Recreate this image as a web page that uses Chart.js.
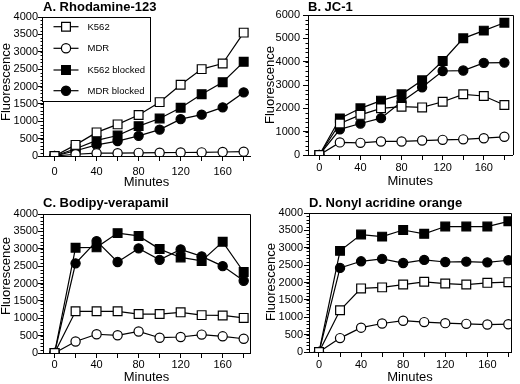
<!DOCTYPE html>
<html>
<head>
<meta charset="utf-8">
<script src="https://cdn.jsdelivr.net/npm/chart.js@4.4.1/dist/chart.umd.min.js"></script>
<style>
    html, body { margin: 0; padding: 0; background: #fff; }
    #wrap { position: relative; width: 520px; height: 384px; }
    #wrap canvas { position: absolute; }
</style>
</head>
<body>
<div id="wrap">
    <canvas id="chartA" width="260" height="192" style="left:0;top:0"></canvas>
    <canvas id="chartB" width="260" height="192" style="left:260px;top:0"></canvas>
    <canvas id="chartC" width="260" height="192" style="left:0;top:192px"></canvas>
    <canvas id="chartD" width="260" height="192" style="left:260px;top:192px"></canvas>
</div>
<script>
// dados
const minutes = [0, 20, 40, 60, 80, 100, 120, 140, 160, 180];
const seriesNames = ['K562', 'MDR', 'K562 blocked', 'MDR blocked'];
const xTitle = 'Minutes';
const yTitle = 'Fluorescence';
const xTickLabels = [0, 40, 80, 120, 160];

// A. Rhodamine-123
const rhoK562 = [0, 320, 680, 910, 1180, 1550, 2050, 2500, 2660, 3550];
const rhoMDR = [0, 50, 80, 80, 90, 95, 100, 105, 115, 125];
const rhoK562Blk = [0, 210, 450, 590, 860, 1080, 1390, 1780, 2125, 2710];
const rhoMDRBlk = [0, 150, 320, 430, 580, 760, 1060, 1190, 1400, 1830];

// B. JC-1
const jcK562 = [0, 1350, 1720, 2000, 2070, 2040, 2280, 2600, 2530, 2140];
const jcMDR = [0, 540, 520, 580, 580, 620, 650, 670, 720, 780];
const jcK562Blk = [0, 1570, 2000, 2330, 2600, 3200, 4030, 5000, 5330, 5670];
const jcMDRBlk = [0, 1100, 1350, 1580, 2280, 2900, 3600, 3620, 3950, 3960];

// C. Bodipy-verapamil
const bodK562 = [0, 1200, 1200, 1200, 1120, 1120, 1170, 1090, 1080, 1010];
const bodMDR = [0, 330, 540, 510, 620, 440, 460, 530, 480, 410];
const bodK562Blk = [0, 3030, 3040, 3450, 3370, 2990, 2750, 2650, 3200, 2330];
const bodMDRBlk = [0, 2580, 3220, 2620, 3010, 2680, 2980, 2780, 2500, 2080];

// D. Nonyl acridine orange
const naoK562 = [0, 1200, 1830, 1860, 1940, 2020, 1970, 1940, 1990, 2010];
const naoMDR = [0, 400, 700, 820, 900, 860, 830, 810, 790, 800];
const naoK562Blk = [0, 2910, 3380, 3320, 3510, 3400, 3610, 3610, 3610, 3760];
const naoMDRBlk = [0, 2420, 2610, 2680, 2560, 2650, 2590, 2600, 2580, 2640];

const FONT = '"Liberation Sans", Arial, Helvetica, sans-serif';
Chart.defaults.font.family = FONT;
Chart.defaults.color = '#000';

// marcadores: quadrado/círculo aberto e cheio
const markers = [
    { shape: 'rect', r: 6.2, fill: '#fff' },
    { shape: 'circle', r: 4.6, fill: '#fff' },
    { shape: 'rect', r: 6.2, fill: '#000' },
    { shape: 'circle', r: 4.6, fill: '#000' }
];

const panelDecor = {
    id: 'panelDecor',
    afterDraw(chart, args, o) {
        const { ctx, chartArea: a, scales } = chart;
        ctx.save();
        ctx.fillStyle = '#000';
        ctx.strokeStyle = '#000';

        // título do painel
        ctx.font = 'bold 13px ' + FONT;
        ctx.textAlign = 'left';
        ctx.textBaseline = 'alphabetic';
        ctx.fillText(o.title, a.left, o.titleY);

        // títulos dos eixos
        ctx.font = '13px ' + FONT;
        ctx.textAlign = 'center';
        ctx.textBaseline = 'middle';
        ctx.fillText(xTitle, (a.left + a.right) / 2, a.bottom + o.xTitleOff);
        ctx.save();
        ctx.translate(o.yTitleX, o.yTitleY);
        ctx.rotate(-Math.PI / 2);
        ctx.fillText(yTitle, 0, 0);
        ctx.restore();

        // ticks menores do eixo y
        ctx.lineWidth = 1;
        ctx.beginPath();
        for (let v = 0; v <= scales.y.max; v += o.yMinor) {
            const py = Math.round(scales.y.getPixelForValue(v)) + 0.5;
            ctx.moveTo(a.left - 2.5, py);
            ctx.lineTo(a.left, py);
        }
        ctx.stroke();

        // moldura (topo e direita)
        if (o.frame) {
            ctx.beginPath();
            ctx.moveTo(a.left, Math.round(a.top) + 0.5);
            ctx.lineTo(Math.round(a.right) + 0.5, Math.round(a.top) + 0.5);
            ctx.lineTo(Math.round(a.right) + 0.5, a.bottom);
            ctx.stroke();
        }

        // legenda dentro do gráfico
        if (o.legend) {
            const bx = a.left - 0.5, by = Math.round(a.top) + 0.5;
            ctx.fillStyle = '#fff';
            ctx.fillRect(bx, by, 108, 84);
            ctx.strokeRect(bx, by, 108, 84);
            ctx.font = '9.5px ' + FONT;
            ctx.textAlign = 'left';
            const rows = [26.7, 48.3, 70, 90.7];
            seriesNames.forEach((name, i) => {
                const y = rows[i];
                ctx.strokeStyle = '#000';
                ctx.lineWidth = 1.2;
                ctx.beginPath();
                ctx.moveTo(bx + 11, y);
                ctx.lineTo(bx + 36, y);
                ctx.stroke();
                ctx.fillStyle = markers[i].fill;
                Chart.helpers.drawPoint(ctx, {
                    pointStyle: markers[i].shape,
                    radius: markers[i].r,
                    rotation: 0,
                    borderWidth: 1.2
                }, bx + 23.5, y);
                ctx.fillStyle = '#000';
                ctx.fillText(name, bx + 45, y + 0.5);
            });
        }
        ctx.restore();
    }
};

function makePanel(id, p) {
    const datasets = seriesNames.map((name, i) => ({
        label: name,
        data: minutes.map((m, j) => ({ x: m, y: p.values[i][j] })),
        showLine: true,
        borderColor: '#000',
        borderWidth: 1.2,
        pointStyle: markers[i].shape,
        pointRadius: markers[i].r,
        pointBackgroundColor: markers[i].fill,
        pointBorderColor: '#000',
        pointBorderWidth: 1.2
    }));

    const yTicks = [];
    for (let v = 0; v <= p.yMax; v += p.yStep) yTicks.push(v);

    new Chart(document.getElementById(id).getContext('2d'), {
        type: 'scatter',
        data: { datasets: datasets },
        options: {
            responsive: false,
            animation: false,
            events: [],
            layout: {
                padding: { left: 0, top: p.top, right: 260 - p.right, bottom: 0 }
            },
            plugins: {
                legend: { display: false },
                tooltip: { enabled: false },
                panelDecor: p.decor
            },
            scales: {
                x: {
                    type: 'linear',
                    min: p.xMin,
                    max: p.xMax,
                    afterFit: s => { s.height = 192 - p.bottom; },
                    afterBuildTicks: s => { s.ticks = minutes.map(v => ({ value: v })); },
                    ticks: {
                        autoSkip: false,
                        maxRotation: 0,
                        padding: p.xPad,
                        font: { size: 11 },
                        callback: v => xTickLabels.includes(v) ? String(v) : ''
                    },
                    grid: { drawOnChartArea: false, tickLength: 5, color: '#000', tickWidth: 1 },
                    border: { color: '#000', width: 1 }
                },
                y: {
                    min: 0,
                    max: p.yMax,
                    afterFit: s => { s.width = p.left; },
                    afterBuildTicks: s => { s.ticks = yTicks.map(v => ({ value: v })); },
                    ticks: { padding: p.yPad, font: { size: 11 }, callback: v => String(v) },
                    grid: { drawOnChartArea: false, tickLength: 5, color: '#000', tickWidth: 1 },
                    border: { color: '#000', width: 1 }
                }
            }
        },
        plugins: [panelDecor]
    });
}

document.addEventListener('DOMContentLoaded', function () {
    makePanel('chartA', {
        values: [rhoK562, rhoMDR, rhoK562Blk, rhoMDRBlk],
        left: 43, top: 17, right: 250, bottom: 156,
        xMin: -11, xMax: 186, yMax: 4000, yStep: 500, xPad: 4, yPad: 0,
        decor: { title: 'A. Rhodamine-123', titleY: 11, xTitleOff: 26, yTitleX: 6, yTitleY: 82, yMinor: 100, frame: false, legend: true }
    });
    makePanel('chartB', {
        values: [jcK562, jcMDR, jcK562Blk, jcMDRBlk],
        left: 48, top: 15, right: 257, bottom: 155,
        xMin: -11, xMax: 188, yMax: 6000, yStep: 1000, xPad: 1, yPad: 3,
        decor: { title: 'B. JC-1', titleY: 11, xTitleOff: 26, yTitleX: 10, yTitleY: 85, yMinor: 200, frame: true, legend: false }
    });
    makePanel('chartC', {
        values: [bodK562, bodMDR, bodK562Blk, bodMDRBlk],
        left: 43, top: 22, right: 250, bottom: 161,
        xMin: -11, xMax: 186, yMax: 4000, yStep: 500, xPad: 0, yPad: 0,
        decor: { title: 'C. Bodipy-verapamil', titleY: 15, xTitleOff: 24, yTitleX: 6, yTitleY: 84, yMinor: 100, frame: true, legend: false }
    });
    makePanel('chartD', {
        values: [naoK562, naoMDR, naoK562Blk, naoMDRBlk],
        left: 49, top: 21, right: 251, bottom: 160,
        xMin: -9.5, xMax: 182.5, yMax: 4000, yStep: 500, xPad: 1, yPad: 1,
        decor: { title: 'D. Nonyl acridine orange', titleY: 14.5, xTitleOff: 25, yTitleX: 11, yTitleY: 90, yMinor: 100, frame: true, legend: false }
    });
});
</script>
</body>
</html>
